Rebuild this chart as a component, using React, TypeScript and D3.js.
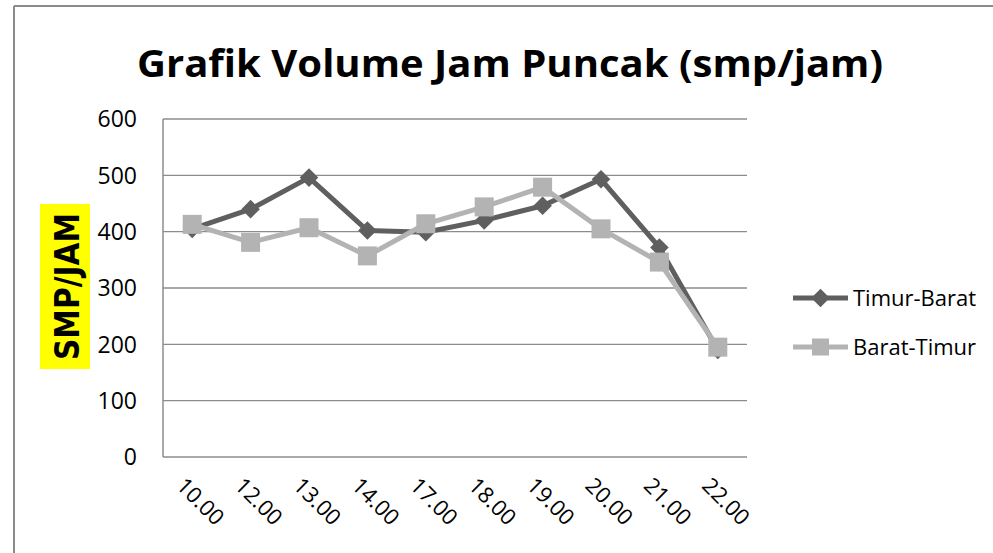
import React from "react";
import * as d3 from "d3";

const categories = ["10.00", "12.00", "13.00", "14.00", "17.00", "18.00", "19.00", "20.00", "21.00", "22.00"];
const timurBarat = [405, 440, 496, 402, 399, 420, 446, 493, 372, 190];
const baratTimur = [413, 381, 407, 357, 414, 444, 479, 405, 346, 195];
const yTicks = [0, 100, 200, 300, 400, 500, 600];
const seriesNames = ["Timur-Barat", "Barat-Timur"];

const W = 993;
const H = 553;
const plot = { left: 163, right: 747, top: 119, bottom: 457 };
const DARK = "#5f5f5f";
const LIGHT = "#b3b3b3";
const FONT = "'Open Sans', 'Liberation Sans', sans-serif";

export default function App() {
  const x = d3.scaleBand<string>().domain(categories).range([plot.left, plot.right]);
  const y = d3.scaleLinear().domain([0, 600]).range([plot.bottom, plot.top]);
  const cx = (c: string) => (x(c) as number) + x.bandwidth() / 2;
  const line = d3
    .line<number>()
    .x((_, i) => cx(categories[i]))
    .y((v) => y(v));

  const diamond = d3.symbol().type(d3.symbolDiamond2).size(220);
  const square = (s: number) => `M${-s / 2},${-s / 2}h${s}v${s}h${-s}Z`;

  return (
    <svg width={W} height={H} style={{ position: "absolute", left: 0, top: 0, background: "#fff", display: "block" }}>
      <line x1={14} x2={W} y1={6} y2={6} stroke="#8a8a8a" strokeWidth={2} />
      <line x1={14} x2={14} y1={6} y2={H} stroke="#8a8a8a" strokeWidth={2} />
      <text
        x={510}
        y={77}
        textAnchor="middle"
        fontFamily={FONT}
        fontWeight="bold"
        fontSize={38}
        textLength={746}
        lengthAdjust="spacingAndGlyphs"
        fill="#000"
      >
        Grafik Volume Jam Puncak (smp/jam)
      </text>

      {yTicks.map((t) => (
        <g key={t}>
          {t > 0 && <line x1={plot.left} x2={plot.right} y1={y(t)} y2={y(t)} stroke="#8c8c8c" strokeWidth={1.3} />}
          <text x={137} y={y(t)} dy="0.36em" textAnchor="end" fontFamily={FONT} fontSize={23} fill="#000">
            {t}
          </text>
        </g>
      ))}
      <line x1={plot.left} x2={plot.left} y1={plot.top} y2={plot.bottom} stroke="#8c8c8c" strokeWidth={1.5} />
      <line x1={plot.left} x2={plot.right} y1={plot.bottom} y2={plot.bottom} stroke="#8c8c8c" strokeWidth={1.5} />

      {categories.map((c) => (
        <text
          key={c}
          transform={`translate(${cx(c) - 17},${487}) rotate(45)`}
          fontFamily={FONT}
          fontSize={22}
          fill="#000"
        >
          {c}
        </text>
      ))}

      <rect x={40} y={204} width={50} height={165} fill="#ffff00" />
      <text
        transform={`translate(79,286.5) rotate(-90)`}
        textAnchor="middle"
        fontFamily="'DejaVu Sans', sans-serif"
        fontWeight="900"
        fontSize={33}
        textLength={147}
        lengthAdjust="spacingAndGlyphs"
        fill="#000"
      >
        SMP/JAM
      </text>

      <path d={line(timurBarat) || ""} fill="none" stroke={DARK} strokeWidth={5} strokeLinejoin="round" />
      {timurBarat.map((v, i) => (
        <path key={i} d={diamond() || ""} transform={`translate(${cx(categories[i])},${y(v)})`} fill={DARK} />
      ))}
      <path d={line(baratTimur) || ""} fill="none" stroke={LIGHT} strokeWidth={5} strokeLinejoin="round" />
      {baratTimur.map((v, i) => (
        <path key={i} d={square(19)} transform={`translate(${cx(categories[i])},${y(v)})`} fill={LIGHT} />
      ))}

      {/* Legend */}
      <g>
        <line x1={793} x2={848} y1={298} y2={298} stroke={DARK} strokeWidth={5} />
        <path d={diamond() || ""} transform="translate(820.5,298)" fill={DARK} />
        <text x={853} y={298} dy="0.36em" fontFamily={FONT} fontSize={22} fill="#000">
          {seriesNames[0]}
        </text>
        <line x1={793} x2={848} y1={347} y2={347} stroke={LIGHT} strokeWidth={5} />
        <path d={square(17)} transform="translate(820.5,347)" fill={LIGHT} />
        <text x={853} y={347} dy="0.36em" fontFamily={FONT} fontSize={22} fill="#000">
          {seriesNames[1]}
        </text>
      </g>
    </svg>
  );
}
